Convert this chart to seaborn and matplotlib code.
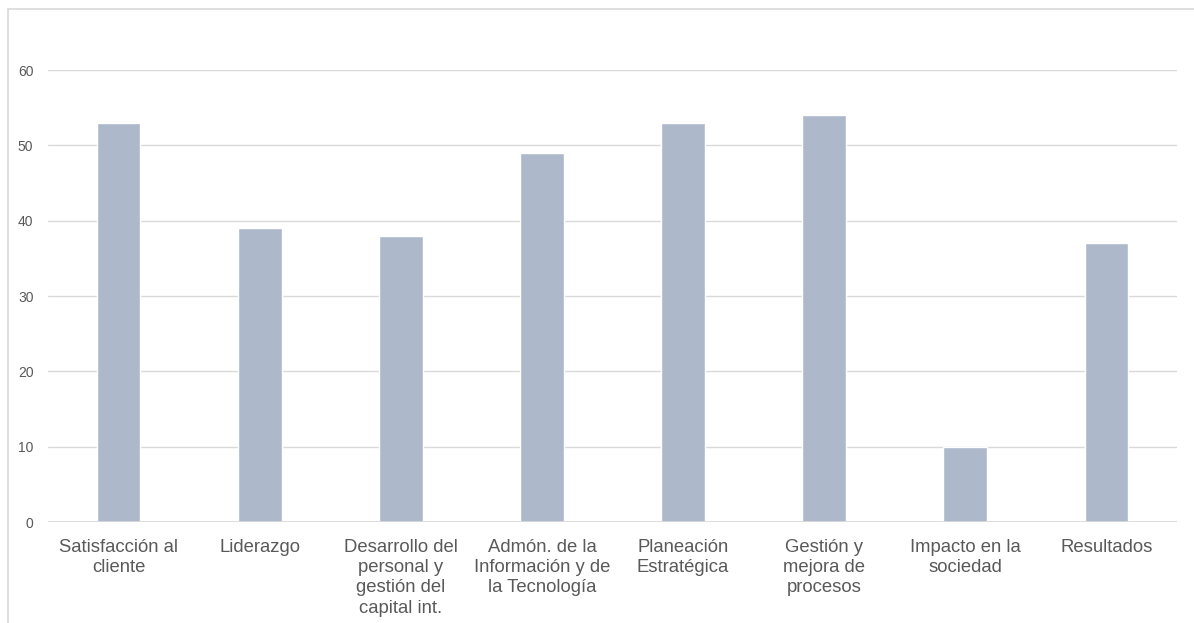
import matplotlib
matplotlib.use("Agg")
import matplotlib.pyplot as plt
from matplotlib.patches import Rectangle
import seaborn as sns
import pandas as pd

categories = [
    "Satisfacción al\ncliente",
    "Liderazgo",
    "Desarrollo del\npersonal y\ngestión del\ncapital int.",
    "Admón. de la\nInformación y de\nla Tecnología",
    "Planeación\nEstratégica",
    "Gestión y\nmejora de\nprocesos",
    "Impacto en la\nsociedad",
    "Resultados",
]
values = [53, 39, 38, 49, 53, 54, 10, 37]
y_ticks = [0, 10, 20, 30, 40, 50, 60]

df = pd.DataFrame({"categoria": categories, "valor": values})

sns.set_theme(style="white")
plt.rcParams["font.family"] = ["Liberation Sans", "DejaVu Sans"]

text_color = "#595959"
grid_color = "#d9d9d9"
bar_color = "#adb9ca"

fig = plt.figure(figsize=(11.94, 6.23), dpi=100)
ax = fig.add_axes([48 / 1194, 1 - 522 / 623, (1177 - 48) / 1194, (522 - 70) / 623])

sns.barplot(data=df, x="categoria", y="valor", color=bar_color, width=0.31,
            saturation=1, ax=ax, zorder=3)

ax.set_ylim(0, 60)
ax.set_xlim(-0.5, len(categories) - 0.5)
ax.set_yticks(y_ticks)
ax.set_yticklabels([str(t) for t in y_ticks], fontsize=10, color=text_color)
ax.yaxis.grid(True, color=grid_color, linewidth=1.0, zorder=0)
ax.set_axisbelow(True)
for side in ["left", "right", "top", "bottom"]:
    ax.spines[side].set_visible(False)
ax.axhline(0, color=grid_color, linewidth=1.2, zorder=4)
ax.tick_params(axis="y", length=0, pad=10.5)
ax.tick_params(axis="x", length=0, pad=12)
for lbl in ax.get_xticklabels():
    lbl.set_fontsize(13.3)
    lbl.set_color(text_color)
    lbl.set_linespacing(1.26)
    lbl.set_verticalalignment("top")
ax.set_xlabel("")
ax.set_ylabel("")

# outer chart frame (top and left edges visible)
fig.patches.append(Rectangle((8 / 1194, -0.1), 1.2, (1 - 9 / 623) + 0.1,
                             transform=fig.transFigure, fill=False,
                             edgecolor=grid_color, linewidth=1.2))

fig.savefig("out.png", dpi=100, facecolor="white")
